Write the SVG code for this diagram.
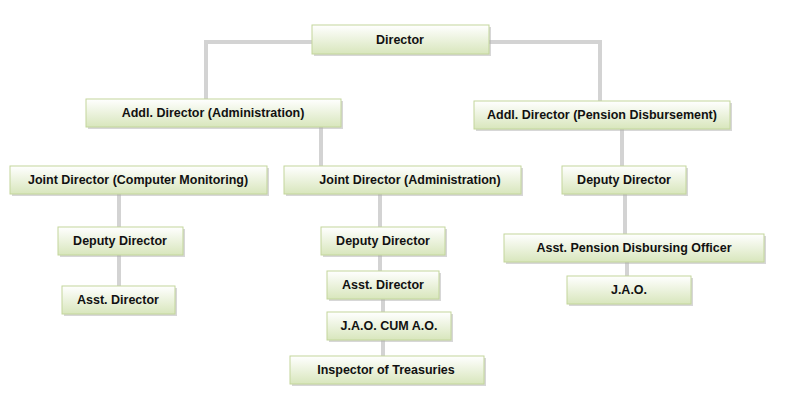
<svg xmlns="http://www.w3.org/2000/svg" width="796" height="415" viewBox="0 0 796 415">
<defs>
<linearGradient id="g" x1="0" y1="0" x2="0" y2="1"><stop offset="0" stop-color="#ffffff"/><stop offset="1" stop-color="#d8e6bc"/></linearGradient>
<style>
.b{fill:url(#g);stroke:#c3d69b;stroke-width:1}
.s{fill:#b0b0b0;opacity:.5}
.t{font-family:"Liberation Sans",Arial,sans-serif;font-size:12.5px;font-weight:bold;fill:#111;text-anchor:middle}
.c{fill:none;stroke:#d3d3d3;stroke-width:4}
</style>
</defs>
<rect width="796" height="415" fill="#fff"/>
<g id="connectors">
<path class="c" d="M312 42H206V99"/>
<path class="c" d="M489 42H600V101"/>
<path class="c" d="M321 127V166"/>
<path class="c" d="M622 129V166"/>
<path class="c" d="M119 194V227M119 255V286"/>
<path class="c" d="M380 194V227M380 255V271M383 299V312M383 340V356"/>
<path class="c" d="M625 194V234M627 262V276"/>
</g>
<g id="n1"><rect class="s" x="314" y="27" width="177" height="29"/><rect class="b" x="312" y="25" width="177" height="29"/><text class="t" x="400" y="44">Director</text></g>
<g id="n2"><rect class="s" x="88" y="101" width="255" height="28"/><rect class="b" x="86" y="99" width="255" height="28"/><text class="t" x="213" y="117">Addl. Director (Administration)</text></g>
<g id="n3"><rect class="s" x="476" y="103" width="256" height="28"/><rect class="b" x="474" y="101" width="256" height="28"/><text class="t" x="602" y="119">Addl. Director (Pension Disbursement)</text></g>
<g id="n4"><rect class="s" x="12" y="168" width="257" height="28"/><rect class="b" x="10" y="166" width="257" height="28"/><text class="t" x="138" y="184">Joint Director (Computer Monitoring)</text></g>
<g id="n5"><rect class="s" x="286" y="168" width="237" height="28"/><rect class="b" x="284" y="166" width="237" height="28"/><text class="t" x="410" y="184">Joint Director (Administration)</text></g>
<g id="n6"><rect class="s" x="564" y="168" width="124" height="28"/><rect class="b" x="562" y="166" width="124" height="28"/><text class="t" x="624" y="184">Deputy Director</text></g>
<g id="n7"><rect class="s" x="60" y="229" width="125" height="28"/><rect class="b" x="58" y="227" width="125" height="28"/><text class="t" x="120" y="245">Deputy Director</text></g>
<g id="n8"><rect class="s" x="64" y="288" width="113" height="28"/><rect class="b" x="62" y="286" width="113" height="28"/><text class="t" x="118" y="304">Asst. Director</text></g>
<g id="n9"><rect class="s" x="323" y="229" width="124" height="28"/><rect class="b" x="321" y="227" width="124" height="28"/><text class="t" x="383" y="245">Deputy Director</text></g>
<g id="n10"><rect class="s" x="329" y="273" width="112" height="28"/><rect class="b" x="327" y="271" width="112" height="28"/><text class="t" x="383" y="289">Asst. Director</text></g>
<g id="n11"><rect class="s" x="329" y="314" width="124" height="28"/><rect class="b" x="327" y="312" width="124" height="28"/><text class="t" x="389" y="330">J.A.O. CUM A.O.</text></g>
<g id="n12"><rect class="s" x="292" y="358" width="194" height="28"/><rect class="b" x="290" y="356" width="194" height="28"/><text class="t" x="386" y="374">Inspector of Treasuries</text></g>
<g id="n13"><rect class="s" x="506" y="236" width="260" height="28"/><rect class="b" x="504" y="234" width="260" height="28"/><text class="t" x="634" y="252">Asst. Pension Disbursing Officer</text></g>
<g id="n14"><rect class="s" x="569" y="278" width="124" height="28"/><rect class="b" x="567" y="276" width="124" height="28"/><text class="t" x="629" y="294">J.A.O.</text></g>
</svg>
